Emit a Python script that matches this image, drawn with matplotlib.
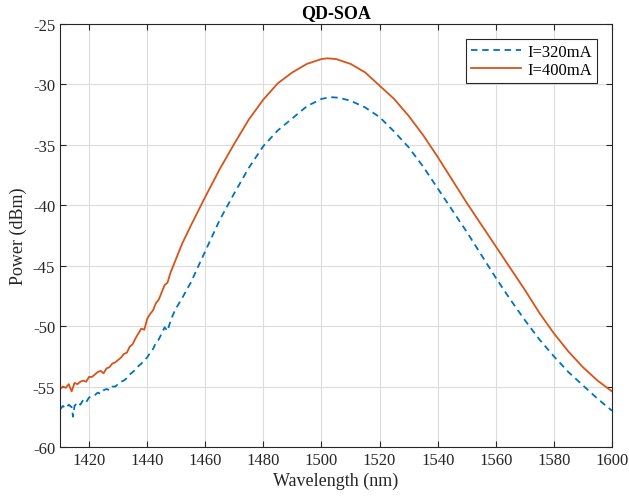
import matplotlib
matplotlib.use("Agg")
import matplotlib.pyplot as plt

# Data
wl_320 = [1410, 1411, 1412, 1413, 1414, 1414.5, 1415, 1416, 1417, 1418, 1419, 1420, 1421, 1422, 1423,
          1424, 1425, 1426, 1427, 1428, 1429, 1430, 1431, 1432, 1433, 1434, 1435, 1436, 1437, 1438,
          1439, 1440, 1441, 1442, 1443, 1444, 1445, 1446, 1447, 1448, 1449, 1450, 1452, 1455,
          1460, 1465, 1470, 1475, 1480, 1485, 1490, 1495, 1500, 1503, 1506, 1510, 1515, 1520, 1525,
          1530, 1535, 1540, 1545, 1550, 1555, 1560, 1565, 1570, 1575, 1580, 1585, 1590, 1595, 1600]
p_320 = [-56.9, -56.6, -56.8, -56.5, -56.7, -57.5, -56.6, -56.3, -56.5, -56.1, -56.3, -55.9, -55.8, -55.7, -55.5,
         -55.6, -55.3, -55.2, -55.3, -55.0, -55.0, -54.8, -54.6, -54.5, -54.3, -54.0, -53.8, -53.6, -53.3, -53.1,
         -52.8, -52.6, -52.2, -51.9, -51.4, -51.1, -50.6, -50.1, -50.4, -49.6, -49.0, -48.5, -47.7, -46.4,
         -43.8, -41.2, -39.0, -36.9, -35.1, -33.8, -32.8, -31.8, -31.2, -31.05, -31.1, -31.35, -31.9, -32.7, -33.9,
         -35.2, -36.8, -38.6, -40.4, -42.2, -44.1, -46.0, -47.8, -49.5, -51.1, -52.5, -53.8, -54.9, -56.0, -57.0]

wl_400 = [1410, 1411, 1412, 1413, 1414, 1415, 1416, 1417, 1418, 1419, 1420, 1421, 1422, 1423, 1424,
          1425, 1426, 1427, 1428, 1429, 1430, 1431, 1432, 1433, 1434, 1435, 1436, 1437, 1438, 1439,
          1440, 1441, 1442, 1443, 1444, 1445, 1446, 1447, 1448, 1449, 1450, 1452,
          1455, 1460, 1465, 1470, 1475, 1480, 1485, 1490, 1495, 1500, 1502, 1505, 1510, 1515, 1520,
          1525, 1530, 1535, 1540, 1545, 1550, 1555, 1560, 1565, 1570, 1575, 1580, 1585, 1590, 1595, 1600]
p_400 = [-55.2, -55.0, -55.1, -54.8, -55.4, -54.7, -54.8, -54.6, -54.5, -54.6, -54.2, -54.2, -54.0, -53.8, -53.7,
         -53.9, -53.5, -53.4, -53.1, -53.0, -52.8, -52.6, -52.3, -52.2, -51.7, -51.5, -51.0, -50.6, -50.2, -50.3,
         -49.4, -49.0, -48.7, -48.1, -47.8, -47.2, -46.6, -46.4, -45.6, -45.0, -44.4, -43.2,
         -41.7, -39.3, -37.0, -34.9, -32.9, -31.25, -29.9, -29.0, -28.3, -27.9, -27.84, -27.9, -28.3, -29.0, -30.1,
         -31.2, -32.6, -34.2, -36.0, -37.9, -39.8, -41.6, -43.4, -45.2, -47.0, -48.9, -50.6, -52.1, -53.4, -54.5, -55.4]

labels = ["I=320mA", "I=400mA"]
x_ticks = [1420, 1440, 1460, 1480, 1500, 1520, 1540, 1560, 1580, 1600]
y_ticks = [-60, -55, -50, -45, -40, -35, -30, -25]

plt.rcParams['font.family'] = ['Liberation Serif', 'DejaVu Serif']
plt.rcParams['axes.unicode_minus'] = False

fig = plt.figure(figsize=(6.29, 5.02), dpi=100)
ax = fig.add_axes([60/629, 1 - 448/502, (612-60)/629, (448-25)/502])

ax.plot(wl_320, p_320, linestyle='--', color='#0072BD', linewidth=1.3, label=labels[0], dashes=(3.6, 2.6))
ax.plot(wl_400, p_400, linestyle='-', color='#D95319', linewidth=1.3, label=labels[1])

ax.set_xlim(1410, 1600)
ax.set_ylim(-60, -25)
ax.set_xticks(x_ticks)
ax.set_yticks(y_ticks)
ax.grid(True, color='#dcdcdc', linewidth=0.8)
ax.set_axisbelow(True)
ax.tick_params(direction='in', top=True, right=True, labelsize=12, colors='#262626', length=4, width=0.8)
for lab in ax.get_xticklabels() + ax.get_yticklabels():
    lab.set_color('#262626')
for s in ax.spines.values():
    s.set_color('#262626')
    s.set_linewidth(0.8)

ax.set_title('QD-SOA', fontsize=13, fontweight='bold', pad=5)
ax.set_xlabel('Wavelength (nm)', fontsize=13, color='#262626', labelpad=3)
ax.set_ylabel('Power (dBm)', fontsize=13, color='#262626', labelpad=4)

leg = ax.legend(loc='upper right', fontsize=12, frameon=True, fancybox=False,
                edgecolor='#262626', framealpha=1, handlelength=3.0,
                borderaxespad=0.9, labelspacing=0.12, borderpad=0.3, handletextpad=0.4)
leg.get_frame().set_linewidth(0.8)

fig.savefig('out.png', dpi=100)
